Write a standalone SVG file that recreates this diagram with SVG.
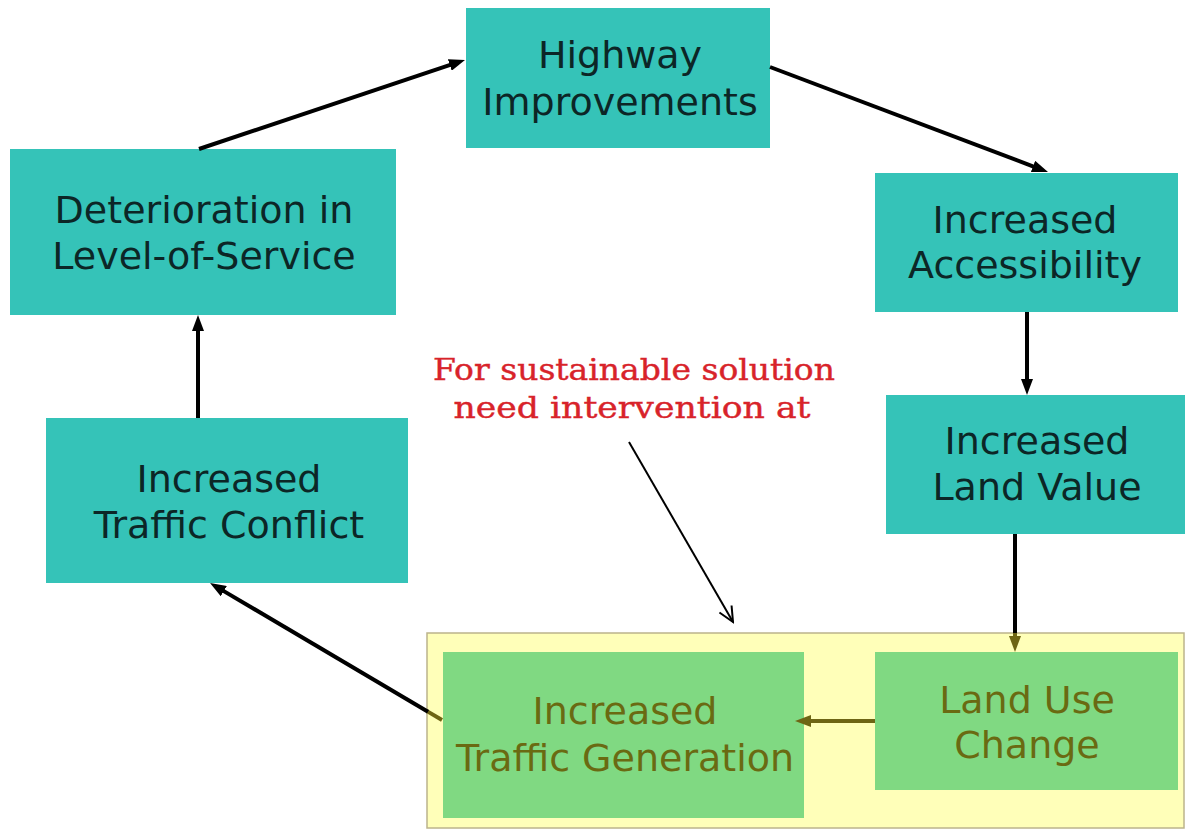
<svg xmlns="http://www.w3.org/2000/svg" width="1187" height="831" viewBox="0 0 1187 831">
<style>
.teal{fill:#35c3b8}
.green{fill:#80d982}
.t{font-family:"DejaVu Sans",Verdana,sans-serif;font-size:38px;text-anchor:middle;fill:#0c2626}
.o{font-family:"DejaVu Sans",Verdana,sans-serif;font-size:38px;text-anchor:middle;fill:#6a6a12}
.red{font-family:"DejaVu Serif","Liberation Serif",serif;font-size:29px;text-anchor:middle;fill:#d8232a;stroke:#d8232a;stroke-width:0.4}
.c{fill:none;stroke:#000;stroke-width:4}
.co{fill:none;stroke:#6e6514;stroke-width:4}
</style>
<defs>
<marker id="ab" markerUnits="userSpaceOnUse" markerWidth="16" markerHeight="12" refX="2" refY="6" orient="auto"><path d="M0,0 L16,6 L0,12 z" fill="#000"/></marker>
<marker id="ao" markerUnits="userSpaceOnUse" markerWidth="16" markerHeight="12" refX="2" refY="6" orient="auto"><path d="M0,0 L16,6 L0,12 z" fill="#6e6514"/></marker>
<marker id="av" markerUnits="userSpaceOnUse" markerWidth="18" markerHeight="16" refX="16" refY="8" orient="auto"><path d="M1,1 L16,8 L1,15" fill="none" stroke="#000" stroke-width="2"/></marker>
</defs>
<rect width="1187" height="831" fill="#fff"/>
<g id="intervention-zone"><rect x="427" y="633" width="757" height="195" fill="#ffffb9" stroke="#bcb48c" stroke-width="1.5"/></g>
<g id="highway"><rect class="teal" x="466" y="8" width="304" height="140"/><text class="t" x="620" y="68">Highway</text><text class="t" x="620" y="115">Improvements</text></g>
<g id="deterioration"><rect class="teal" x="10" y="149" width="386" height="166"/><text class="t" x="204" y="223">Deterioration in</text><text class="t" x="204" y="269">Level-of-Service</text></g>
<g id="accessibility"><rect class="teal" x="875" y="173" width="303" height="139"/><text class="t" x="1025" y="233">Increased</text><text class="t" x="1025" y="278">Accessibility</text></g>
<g id="land-value"><rect class="teal" x="886" y="395" width="299" height="139"/><text class="t" x="1037" y="454">Increased</text><text class="t" x="1037" y="500">Land Value</text></g>
<g id="traffic-conflict"><rect class="teal" x="46" y="418" width="362" height="165"/><text class="t" x="229" y="492">Increased</text><text class="t" x="229" y="538">Traffic Conflict</text></g>
<g id="traffic-generation"><rect class="green" x="443" y="652" width="361" height="166"/><text class="o" x="625" y="724">Increased</text><text class="o" x="625" y="771">Traffic Generation</text></g>
<g id="land-use"><rect class="green" x="875" y="652" width="303" height="138"/><text class="o" x="1027" y="713">Land Use</text><text class="o" x="1027" y="758">Change</text></g>
<g id="note"><text class="red" x="634" y="380" textLength="402" lengthAdjust="spacingAndGlyphs">For sustainable solution</text><text class="red" x="632" y="418" textLength="357" lengthAdjust="spacingAndGlyphs">need intervention at</text></g>
<g id="connectors">
<line class="c" x1="199" y1="149" x2="451.7" y2="64.4" marker-end="url(#ab)"/>
<line class="c" x1="770" y1="67" x2="1034.9" y2="167.1" marker-end="url(#ab)"/>
<line class="c" x1="1027" y1="312" x2="1027" y2="381" marker-end="url(#ab)"/>
<line class="c" x1="1015" y1="534" x2="1015" y2="634"/>
<line class="co" x1="1015" y1="633" x2="1015" y2="638" marker-end="url(#ao)"/>
<line class="co" x1="875" y1="721" x2="809" y2="721" marker-end="url(#ao)"/>
<line class="co" x1="442" y1="720" x2="427" y2="711.1"/>
<line class="c" x1="428" y1="711.7" x2="222.1" y2="590.1" marker-end="url(#ab)"/>
<line class="c" x1="198" y1="418" x2="198" y2="329" marker-end="url(#ab)"/>
<line x1="629" y1="442" x2="733" y2="622" stroke="#000" stroke-width="2" marker-end="url(#av)"/>
</g>
</svg>
